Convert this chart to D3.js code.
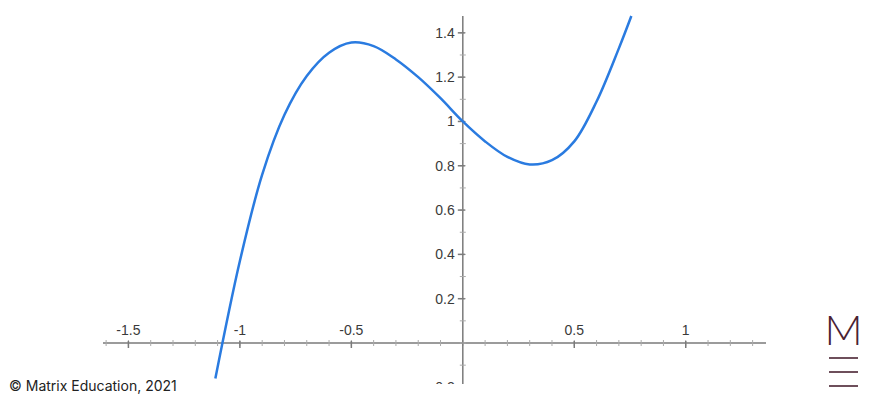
<!DOCTYPE html>
<html>
<head>
<meta charset="utf-8">
<script src="https://cdn.jsdelivr.net/npm/d3@7"></script>
<style>
  body { margin: 0; background: #fff; }
  svg { display: block; }
</style>
</head>
<body>
<svg width="870" height="400"></svg>
<script>
// points (x, y)
var curveX = [-1.11, -1.0, -0.9, -0.8, -0.7, -0.6, -0.5, -0.4, -0.3, -0.2, -0.1, 0.0,
              0.1, 0.2, 0.3, 0.4, 0.5, 0.6, 0.7, 0.756];
var curveY = [-0.16, 0.37, 0.76, 1.03, 1.205, 1.31, 1.356, 1.34, 1.28, 1.20, 1.105, 1.0,
              0.91, 0.84, 0.806, 0.825, 0.91, 1.09, 1.33, 1.476];

var xTicks = [-1.5, -1, -0.5, 0.5, 1];
var xTickLabels = ["-1.5", "-1", "-0.5", "0.5", "1"];
var yTicks = [-0.2, 0.2, 0.4, 0.6, 0.8, 1, 1.2, 1.4];
var yTickLabels = ["-0.2", "0.2", "0.4", "0.6", "0.8", "1", "1.2", "1.4"];
var xMinor = d3.range(-16, 14).map(function (i) { return i / 10; });
var yMinor = d3.range(-1, 15).map(function (i) { return i / 10; });

var svg = d3.select("svg");

var x = d3.scaleLinear().domain([-1.614, 1.36]).range([103, 766]);
var y = d3.scaleLinear().domain([-0.185, 1.476]).range([384, 16]);

// everything of the graph is cut at the bottom edge
svg.append("clipPath").attr("id", "plot")
    .append("rect").attr("x", 0).attr("y", 0).attr("width", 800).attr("height", 384);

var g = svg.append("g").attr("clip-path", "url(#plot)");
var axisColor = "#7a7a7a";

// x axis line + ticks
g.append("line")
    .attr("x1", x.range()[0]).attr("x2", x.range()[1])
    .attr("y1", y(0)).attr("y2", y(0))
    .attr("stroke", axisColor).attr("stroke-width", 1.5);

g.selectAll(".xminor").data(xMinor).enter().append("line")
    .attr("x1", function (d) { return x(d); }).attr("x2", function (d) { return x(d); })
    .attr("y1", y(0) - 3).attr("y2", y(0) + 3)
    .attr("stroke", "#aaa").attr("stroke-width", 1);

g.selectAll(".xmajor").data(xTicks).enter().append("line")
    .attr("x1", function (d) { return x(d); }).attr("x2", function (d) { return x(d); })
    .attr("y1", y(0) - 2).attr("y2", y(0) + 5)
    .attr("stroke", axisColor).attr("stroke-width", 1.5);

g.selectAll(".xlab").data(xTicks).enter().append("text")
    .attr("x", function (d) { return x(d); })
    .attr("y", y(0) - 8)
    .attr("text-anchor", "middle")
    .attr("font-family", "Liberation Sans, Arial, sans-serif")
    .attr("font-size", 14)
    .attr("fill", "#3a3a3a")
    .text(function (d, i) { return xTickLabels[i]; });

// y axis line + ticks
g.append("line")
    .attr("x1", x(0)).attr("x2", x(0))
    .attr("y1", y.range()[1]).attr("y2", y.range()[0])
    .attr("stroke", axisColor).attr("stroke-width", 1.5);

g.selectAll(".yminor").data(yMinor).enter().append("line")
    .attr("x1", x(0) - 3).attr("x2", x(0) + 3)
    .attr("y1", function (d) { return y(d); }).attr("y2", function (d) { return y(d); })
    .attr("stroke", "#aaa").attr("stroke-width", 1);

g.selectAll(".ymajor").data(yTicks).enter().append("line")
    .attr("x1", x(0) - 5).attr("x2", x(0) + 2)
    .attr("y1", function (d) { return y(d); }).attr("y2", function (d) { return y(d); })
    .attr("stroke", axisColor).attr("stroke-width", 1.5);

g.selectAll(".ylab").data(yTicks).enter().append("text")
    .attr("x", x(0) - 8)
    .attr("y", function (d) { return y(d); })
    .attr("dy", "0.36em")
    .attr("text-anchor", "end")
    .attr("font-family", "Liberation Sans, Arial, sans-serif")
    .attr("font-size", 14)
    .attr("fill", "#3a3a3a")
    .text(function (d, i) { return yTickLabels[i]; });

// the curve
var pts = curveX.map(function (d, i) { return [d, curveY[i]]; });
var line = d3.line()
    .x(function (d) { return x(d[0]); })
    .y(function (d) { return y(d[1]); })
    .curve(d3.curveCatmullRom.alpha(0.5));

g.append("path")
    .datum(pts)
    .attr("fill", "none")
    .attr("stroke", "#2a7be0")
    .attr("stroke-width", 2.5)
    .attr("d", line);

// copyright
svg.append("text")
    .attr("x", 9).attr("y", 391)
    .attr("font-family", "Inter, Roboto, sans-serif")
    .attr("font-size", 14)
    .attr("fill", "#222")
    .text("© Matrix Education, 2021");

// logo
var logo = svg.append("g").attr("fill", "#4a2232").attr("stroke", "#4a2232");
logo.append("text")
    .attr("x", 843.5).attr("y", 345)
    .attr("text-anchor", "middle")
    .attr("font-family", "Lato, Inter, sans-serif")
    .attr("font-weight", 300)
    .attr("font-size", 42)
    .attr("stroke", "none")
    .text("M");
[358, 372, 386].forEach(function (ly) {
    logo.append("line")
        .attr("x1", 829).attr("x2", 858)
        .attr("y1", ly).attr("y2", ly)
        .attr("stroke-width", 1.6);
});
</script>
</body>
</html>
